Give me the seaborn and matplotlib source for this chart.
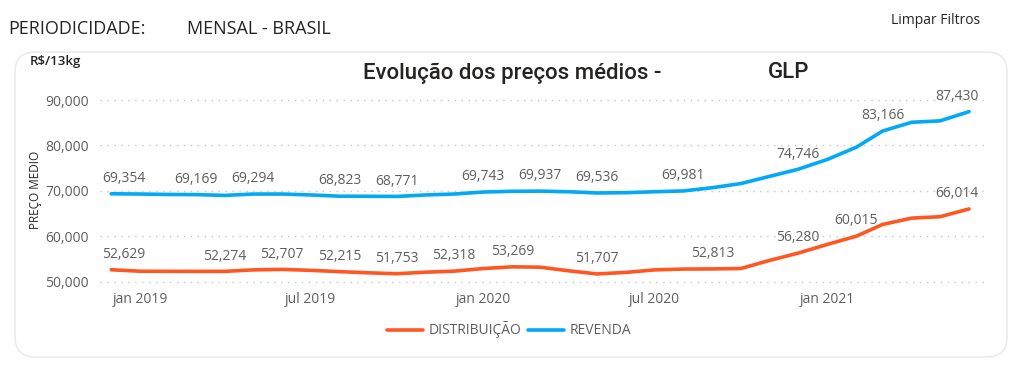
import pandas as pd
import matplotlib
matplotlib.use("Agg")
import matplotlib.pyplot as plt
import seaborn as sns
from matplotlib.patches import FancyBboxPatch
from matplotlib.lines import Line2D

# --- data ---
months = pd.date_range("2018-12-01", "2021-06-01", freq="MS")
revenda = [69354, 69300, 69200, 69169, 69000, 69294, 69300, 69100, 68823, 68800,
           68771, 69100, 69300, 69743, 69900, 69937, 69800, 69536, 69600, 69800,
           69981, 70700, 71600, 73200, 74746, 76900, 79600, 83166, 85100, 85400,
           87430]
distribuicao = [52629, 52300, 52280, 52270, 52274, 52600, 52707, 52500, 52215, 51950,
                51753, 52100, 52318, 52900, 53269, 53200, 52400, 51707, 52050, 52600,
                52780, 52813, 52900, 54700, 56280, 58200, 60015, 62600, 64000, 64300,
                66014]
rev_labels = [0, 3, 5, 8, 10, 13, 15, 17, 20, 24, 27, 30]
dist_labels = [0, 4, 6, 8, 10, 12, 14, 17, 21, 24, 26, 30]
tick_dates = ["2019-01-01", "2019-07-01", "2020-01-01", "2020-07-01", "2021-01-01"]
tick_names = ["jan 2019", "jul 2019", "jan 2020", "jul 2020", "jan 2021"]
yticks = [50000, 60000, 70000, 80000, 90000]

df = pd.concat([
    pd.DataFrame({"mes": months, "preco": distribuicao, "serie": "DISTRIBUIÇÃO"}),
    pd.DataFrame({"mes": months, "preco": revenda, "serie": "REVENDA"}),
])

palette = {"DISTRIBUIÇÃO": "#FF5722", "REVENDA": "#03A9F4"}
gray = "#605E5C"
dark = "#252423"

sns.set_theme(style="white")
plt.rcParams["font.family"] = ["Open Sans", "DejaVu Sans"]

fig = plt.figure(figsize=(10.25, 3.66), dpi=100)
fig.patch.set_facecolor("white")

# card background
card = FancyBboxPatch((0.15, 0.09), 9.92, 3.05, boxstyle="round,pad=0,rounding_size=0.2",
                      transform=fig.dpi_scale_trans, facecolor="white",
                      edgecolor="#E8E8E8", linewidth=1.0, zorder=-10)
fig.patches.append(card)

ax = fig.add_axes([100 / 1025, 1 - 288 / 366, 885 / 1025, 192 / 366])
ax.set_facecolor("none")
ax.set_zorder(5)

sns.lineplot(data=df, x="mes", y="preco", hue="serie", palette=palette,
             linewidth=2.6, ax=ax, legend=False)

ax.set_ylim(48612, 90881)
ax.set_xlim(pd.Timestamp("2018-11-19"), pd.Timestamp("2021-06-18"))
ax.set_yticks(yticks)
ax.set_yticklabels([f"{v:,}" for v in yticks], color=gray, fontsize=10)
ax.set_xticks(pd.to_datetime(tick_dates))
ax.set_xticklabels(tick_names, color=gray, fontsize=10)
ax.tick_params(axis="x", length=0, pad=3)
ax.tick_params(axis="y", length=0, pad=8)
ax.grid(axis="y", linestyle=(0, (1, 4)), color="#C8C6C4", linewidth=1)
for s in ax.spines.values():
    s.set_visible(False)
ax.set_xlabel("")
ax.set_ylabel("")
fig.text(35 / 1025, 1 - 190 / 366, "PREÇO MEDIO", fontsize=8.5, color=dark,
         rotation=90, va="center", ha="center")

# data labels
def put_labels(values, idxs):
    for i in idxs:
        dx = 0
        if i == 0:
            dx = 9
        elif i == len(values) - 1:
            dx = -9
        ax.annotate(f"{values[i]:,}", (months[i], values[i]), xytext=(dx, 11),
                    textcoords="offset points", ha="center", va="center",
                    color=gray, fontsize=10)

put_labels(revenda, rev_labels)
put_labels(distribuicao, dist_labels)

# legend
handles = [Line2D([0], [0], color=palette[k], lw=2.6) for k in palette]
fig.legend(handles, list(palette.keys()), loc="center", bbox_to_anchor=(509 / 1025, 1 - 330 / 366),
           ncol=2, frameon=False, fontsize=10, labelcolor=gray, handlelength=2.6,
           columnspacing=0.5, handletextpad=0.4)

# header texts
fig.text(8 / 1025, 1 - 29 / 366, "PERIODICIDADE:", fontsize=13, color=dark, va="center")
fig.text(187 / 1025, 1 - 29 / 366, "MENSAL - BRASIL", fontsize=13, color=dark, va="center")
fig.text(980 / 1025, 1 - 20 / 366, "Limpar Filtros", fontsize=10, color=dark,
         va="center", ha="right")
fig.text(30 / 1025, 1 - 62 / 366, "R$/13kg", fontsize=9.5, color=dark, va="center",
         fontweight="semibold")
fig.text(512 / 1025, 1 - 73 / 366, "Evolução dos preços médios -", fontsize=16,
         color=dark, va="center", ha="center", family=["Roboto", "DejaVu Sans"],
         fontweight="medium")
fig.text(789 / 1025, 1 - 73 / 366, "GLP", fontsize=16, color=dark, va="center",
         ha="center", family=["Roboto", "DejaVu Sans"], fontweight="medium")

fig.savefig("out.png", dpi=100, facecolor="white")
